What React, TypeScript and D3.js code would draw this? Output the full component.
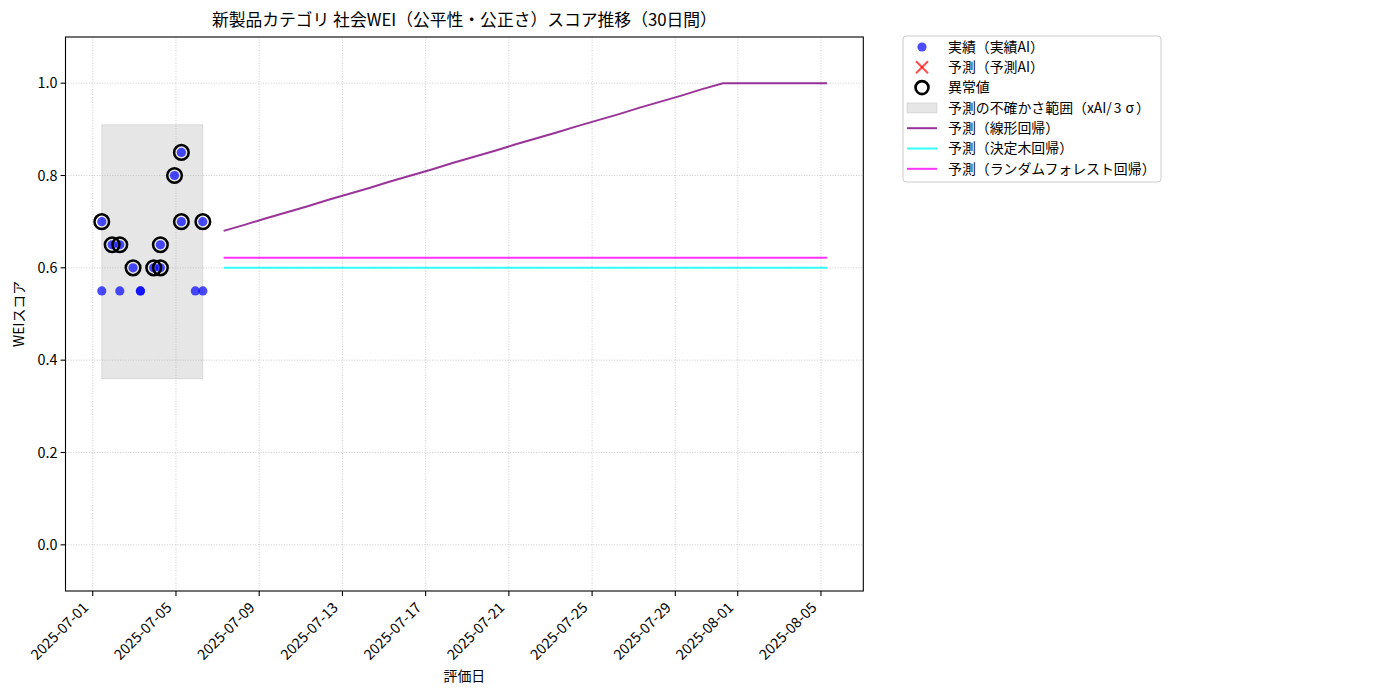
import React from "react";
import * as d3 from "d3";

// ---------- data ----------
const actualDates = [
  "2025-07-01T10:24", "2025-07-01T10:24", "2025-07-01T22:24", "2025-07-02T07:12", "2025-07-02T07:12",
  "2025-07-02T22:30", "2025-07-03T07:00", "2025-07-03T07:00", "2025-07-03T22:20", "2025-07-04T06:00",
  "2025-07-04T06:00", "2025-07-04T22:20", "2025-07-05T06:15", "2025-07-05T06:15", "2025-07-05T22:20",
  "2025-07-06T07:00", "2025-07-06T07:00",
];
const actualScores = [0.7, 0.55, 0.65, 0.65, 0.55, 0.6, 0.55, 0.55, 0.6, 0.6, 0.65, 0.8, 0.85, 0.7, 0.55, 0.7, 0.55];
const outlierFlags = [true, false, true, true, false, true, false, false, true, true, true, true, true, true, false, true, false];

const bandDates = ["2025-07-01T10:24", "2025-07-06T07:00"];
const bandLower = [0.36, 0.36];
const bandUpper = [0.91, 0.91];

const forecastDates = [
  "2025-07-07T07:00", "2025-07-08T07:00", "2025-07-09T07:00", "2025-07-10T07:00", "2025-07-11T07:00",
  "2025-07-12T07:00", "2025-07-13T07:00", "2025-07-14T07:00", "2025-07-15T07:00", "2025-07-16T07:00",
  "2025-07-17T07:00", "2025-07-18T07:00", "2025-07-19T07:00", "2025-07-20T07:00", "2025-07-21T07:00",
  "2025-07-22T07:00", "2025-07-23T07:00", "2025-07-24T07:00", "2025-07-25T07:00", "2025-07-26T07:00",
  "2025-07-27T07:00", "2025-07-28T07:00", "2025-07-29T07:00", "2025-07-30T07:00", "2025-07-31T07:00",
  "2025-08-01T07:00", "2025-08-02T07:00", "2025-08-03T07:00", "2025-08-04T07:00", "2025-08-05T07:00",
];
const linearForecast = [
  0.68, 0.693, 0.707, 0.72, 0.733, 0.747, 0.76, 0.773, 0.787, 0.8,
  0.813, 0.827, 0.84, 0.853, 0.867, 0.88, 0.893, 0.907, 0.92, 0.933,
  0.947, 0.96, 0.973, 0.987, 1.0, 1.0, 1.0, 1.0, 1.0, 1.0,
];
const treeForecast = [
  0.6, 0.6, 0.6, 0.6, 0.6, 0.6, 0.6, 0.6, 0.6, 0.6,
  0.6, 0.6, 0.6, 0.6, 0.6, 0.6, 0.6, 0.6, 0.6, 0.6,
  0.6, 0.6, 0.6, 0.6, 0.6, 0.6, 0.6, 0.6, 0.6, 0.6,
];
const forestForecast = [
  0.622, 0.622, 0.622, 0.622, 0.622, 0.622, 0.622, 0.622, 0.622, 0.622,
  0.622, 0.622, 0.622, 0.622, 0.622, 0.622, 0.622, 0.622, 0.622, 0.622,
  0.622, 0.622, 0.622, 0.622, 0.622, 0.622, 0.622, 0.622, 0.622, 0.622,
];

const xTickDates = [
  "2025-07-01", "2025-07-05", "2025-07-09", "2025-07-13", "2025-07-17",
  "2025-07-21", "2025-07-25", "2025-07-29", "2025-08-01", "2025-08-05",
];
const yTicks = [0.0, 0.2, 0.4, 0.6, 0.8, 1.0];
const yDomain = [-0.1, 1.1];

const titleText = "新製品カテゴリ 社会WEI（公平性・公正さ）スコア推移（30日間）";
const xLabel = "評価日";
const yLabel = "WEIスコア";
const legendLabels = [
  "実績（実績AI）",
  "予測（予測AI）",
  "異常値",
  "予測の不確かさ範囲（xAI/3σ）",
  "予測（線形回帰）",
  "予測（決定木回帰）",
  "予測（ランダムフォレスト回帰）",
];

// ---------- layout ----------
const W = 1400;
const H = 700;
const L = 65.5;
const R = 863.3;
const T = 37;
const B = 591;
const FONT = "'Noto Sans CJK JP', 'DejaVu Sans', sans-serif";
const FS = 13.9;
const LW = 2;

const parse = (s: string) => new Date(s);

function LegendText({ t, x, y }: { t: string; x: number; y: number }) {
  // the reference font sets "3σ" with wide (full-width style) spacing
  const m = t.match(/^(.*\/)(3)(σ)(.*)$/);
  return (
    <text x={x} y={y} dy="0.35em" fontSize={FS} fill="#000">
      {m ? (
        <>
          {m[1]}
          <tspan dx={2}>{m[2]}</tspan>
          <tspan dx={4}>{m[3]}</tspan>
          <tspan dx={2}>{m[4]}</tspan>
        </>
      ) : (
        t
      )}
    </text>
  );
}

export default function App() {
  const allTimes = [...actualDates, ...forecastDates].map((s) => parse(s).getTime());
  const tMin = d3.min(allTimes) as number;
  const tMax = d3.max(allTimes) as number;
  const pad = (tMax - tMin) * 0.05;
  const x = d3.scaleTime().domain([new Date(tMin - pad), new Date(tMax + pad)]).range([L, R]);
  const y = d3.scaleLinear().domain(yDomain).range([B, T]);

  const lineGen = d3
    .line<[string, number]>()
    .x((d) => x(parse(d[0])))
    .y((d) => y(d[1]));

  const area = d3
    .area<number>()
    .x((i) => x(parse(bandDates[i])))
    .y0((i) => y(bandLower[i]))
    .y1((i) => y(bandUpper[i]));

  const zip = (vals: number[]) => forecastDates.map((d, i) => [d, vals[i]] as [string, number]);

  const legX = 903;
  const legY = 36;
  const rowY = (i: number) => legY + 11 + i * 20.3;

  return (
    <svg
      width={W}
      height={H}
      style={{ position: "absolute", left: 0, top: 0, background: "#fff" }}
      fontFamily={FONT}
    >
      <rect x={0} y={0} width={W} height={H} fill="#fff" />
      {/* band */}
      <path d={area([0, 1]) || ""} fill="#808080" fillOpacity={0.2} stroke="#808080" strokeOpacity={0.2} />
      {/* grid */}
      <g stroke="#b0b0b0" strokeOpacity={0.7} strokeWidth={0.9} strokeDasharray="1,1.6">
        {xTickDates.map((d) => (
          <line key={d} x1={x(parse(d + "T00:00"))} x2={x(parse(d + "T00:00"))} y1={T} y2={B} />
        ))}
        {yTicks.map((v) => (
          <line key={v} x1={L} x2={R} y1={y(v)} y2={y(v)} />
        ))}
      </g>
      {/* forecast lines */}
      <path d={lineGen(zip(linearForecast)) || ""} fill="none" stroke="purple" strokeOpacity={0.8} strokeWidth={LW} />
      <path d={lineGen(zip(treeForecast)) || ""} fill="none" stroke="cyan" strokeOpacity={0.8} strokeWidth={LW} />
      <path d={lineGen(zip(forestForecast)) || ""} fill="none" stroke="magenta" strokeOpacity={0.8} strokeWidth={LW} />
      {/* actual points */}
      {actualDates.map((d, i) => (
        <circle key={"a" + i} cx={x(parse(d))} cy={y(actualScores[i])} r={4.6} fill="blue" fillOpacity={0.7} />
      ))}
      {/* outliers */}
      {actualDates.map((d, i) =>
        outlierFlags[i] ? (
          <circle key={"o" + i} cx={x(parse(d))} cy={y(actualScores[i])} r={7.3} fill="none" stroke="#000" strokeWidth={2.5} />
        ) : null
      )}
      {/* spines */}
      <rect x={L} y={T} width={R - L} height={B - T} fill="none" stroke="#000" strokeWidth={1.1} />
      {/* x ticks */}
      {xTickDates.map((d) => {
        const px = x(parse(d + "T00:00"));
        return (
          <g key={d}>
            <line x1={px} x2={px} y1={B} y2={B + 4.9} stroke="#000" strokeWidth={1.1} />
            <text
              transform={`translate(${px - 7},${B + 14}) rotate(-45)`}
              textAnchor="end"
              dy="0.35em"
              fontSize={14.4}
              fill="#000"
            >
              {d}
            </text>
          </g>
        );
      })}
      {/* y ticks */}
      {yTicks.map((v) => (
        <g key={v}>
          <line x1={L - 4.9} x2={L} y1={y(v)} y2={y(v)} stroke="#000" strokeWidth={1.1} />
          <text x={L - 8} y={y(v)} dy="0.35em" textAnchor="end" fontSize={14.4} fill="#000">
            {v.toFixed(1)}
          </text>
        </g>
      ))}
      {/* labels */}
      <text x={(L + R) / 2} y={26} textAnchor="middle" fontSize={16.8} fill="#000">
        {titleText}
      </text>
      <text x={(L + R) / 2} y={681} textAnchor="middle" fontSize={FS} fill="#000">
        {xLabel}
      </text>
      <text transform={`translate(24,${(T + B) / 2}) rotate(-90)`} textAnchor="middle" fontSize={FS} fill="#000">
        {yLabel}
      </text>
      {/* legend */}
      <rect x={legX} y={legY} width={258} height={146} rx={3} fill="#fff" fillOpacity={0.8} stroke="#cccccc" strokeWidth={1} />
      <circle cx={922} cy={rowY(0)} r={4.6} fill="blue" fillOpacity={0.7} />
      <g stroke="red" strokeOpacity={0.7} strokeWidth={2}>
        <line x1={916} y1={rowY(1) - 6} x2={928} y2={rowY(1) + 6} />
        <line x1={916} y1={rowY(1) + 6} x2={928} y2={rowY(1) - 6} />
      </g>
      <circle cx={922} cy={rowY(2)} r={6.5} fill="none" stroke="#000" strokeWidth={2.6} />
      <rect x={907} y={rowY(3) - 5} width={30} height={10} fill="#808080" fillOpacity={0.2} stroke="#808080" strokeOpacity={0.2} />
      <line x1={907} x2={937} y1={rowY(4)} y2={rowY(4)} stroke="purple" strokeOpacity={0.8} strokeWidth={LW} />
      <line x1={907} x2={937} y1={rowY(5)} y2={rowY(5)} stroke="cyan" strokeOpacity={0.8} strokeWidth={LW} />
      <line x1={907} x2={937} y1={rowY(6)} y2={rowY(6)} stroke="magenta" strokeOpacity={0.8} strokeWidth={LW} />
      {legendLabels.map((t, i) => (
        <LegendText key={t} t={t} x={948} y={rowY(i)} />
      ))}
    </svg>
  );
}
